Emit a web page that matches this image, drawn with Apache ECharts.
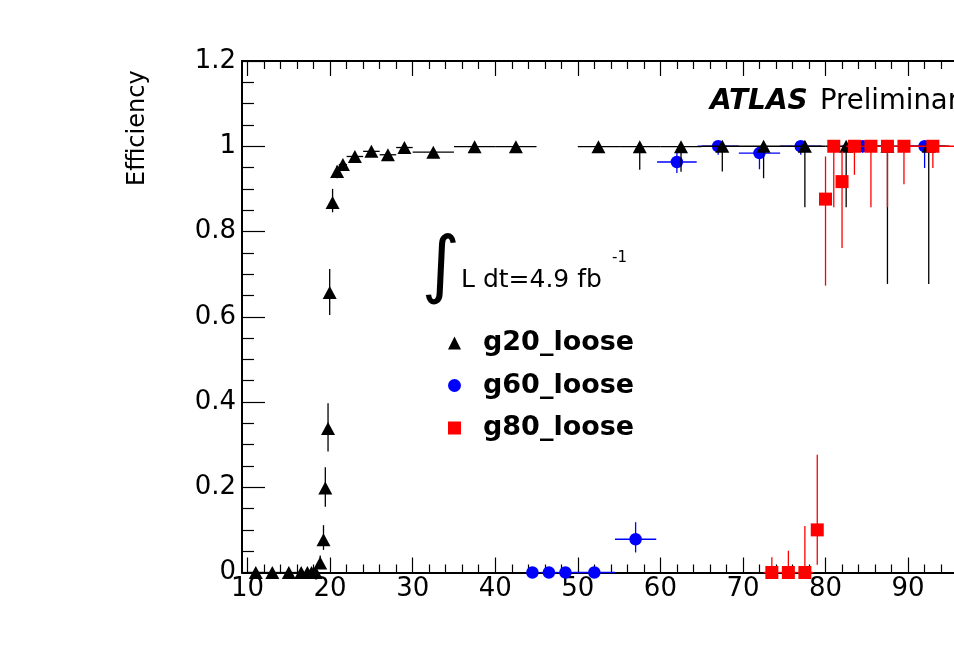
<!DOCTYPE html>
<html>
<head>
<meta charset="utf-8">
<script src="https://cdn.jsdelivr.net/npm/echarts@6/dist/echarts.min.js"></script>
<style>
html,body{margin:0;padding:0;background:#fff;}
#chart{width:954px;height:655px;}
</style>
</head>
<body>
<div id="chart"></div>
<script>
// ---- data ----
// g20_loose : black triangles
const g20X    = [11, 13, 15, 16.5, 17.25, 17.75, 18.25, 18.8, 19.2, 19.42, 19.75, 19.95, 20.3, 20.85, 21.55, 23, 25, 27, 29, 32.5, 37.5, 42.5, 52.5, 57.5, 62.5, 67.5, 72.5, 77.5, 82.5, 87.5, 92.5];
const g20Y    = [0, 0, 0, 0, 0, 0, 0, 0.022, 0.077, 0.198, 0.338, 0.657, 0.868, 0.941, 0.957, 0.976, 0.988, 0.980, 0.997, 0.986, 0.999, 0.999, 0.999, 0.999, 0.999, 1, 1, 1, 1, 1, 1];
const g20YLo  = [0, 0, 0, 0, 0, 0, 0, 0.008, 0.053, 0.154, 0.284, 0.604, 0.845, 0.925, 0.945, 0.968, 0.982, 0.972, 0.990, 0.980, 0.995, 0.995, 0.995, 0.945, 0.940, 0.941, 0.925, 0.857, 0.857, 0.677, 0.677];
const g20YHi  = [0.005, 0.005, 0.005, 0.005, 0.005, 0.005, 0.005, 0.040, 0.111, 0.247, 0.397, 0.712, 0.900, 0.955, 0.968, 0.983, 0.993, 0.987, 1, 0.990, 1, 1, 1, 1, 1, 1, 1, 1, 1, 1, 1];
const g20XErr = [1, 1, 1, 0.5, 0.25, 0.25, 0.25, 0.2, 0.2, 0.1, 0.1, 0.1, 0.2, 0.25, 0.5, 1, 1, 1, 1, 2.5, 2.5, 2.5, 2.5, 2.5, 2.5, 2.5, 2.5, 2.5, 2.5, 2.5, 2.5];

// g60_loose : blue circles
const g60X    = [44.5, 46.5, 48.5, 52, 57, 62, 67, 72, 77, 84.5, 92];
const g60Y    = [0, 0, 0, 0, 0.078, 0.963, 1, 0.984, 1, 1, 1];
const g60YLo  = [0, 0, 0, 0, 0.047, 0.937, 0.980, 0.946, 0.980, 0.985, 0.949];
const g60YHi  = [0.005, 0.005, 0.005, 0.005, 0.118, 0.984, 1, 1, 1, 1, 1];
const g60XErr = [0.5, 1, 1, 2.5, 2.5, 2.4, 2.5, 2.5, 2.5, 2.5, 2.5];

// g80_loose : red squares
const g80X    = [73.5, 75.5, 77.5, 79, 80, 81, 82, 83.5, 85.5, 87.5, 89.5, 93];
const g80Y    = [0, 0, 0, 0.100, 0.876, 1, 0.917, 1, 1, 1, 1, 1];
const g80YLo  = [0, 0, 0, 0.018, 0.673, 0.857, 0.761, 0.933, 0.857, 0.857, 0.911, 0.949];
const g80YHi  = [0.036, 0.051, 0.109, 0.276, 0.976, 1, 0.988, 1, 1, 1, 1, 1];
const g80XErr = [1, 1, 1, 0.5, 0.5, 0.5, 0.5, 1, 1, 1, 1, 3];

// axis ticks
const xMajorTicks = [10, 20, 30, 40, 50, 60, 70, 80, 90];
const xMinorTicks = [];
for (let i = 0; i < xMajorTicks.length; i++) {
  for (let k = 1; k < 5; k++) xMinorTicks.push(xMajorTicks[i] + k * 2);
}
const yTickValues = [0, 0.2, 0.4, 0.6, 0.8, 1, 1.2];

// ---- build ----
const FONT = '"DejaVu Sans", "Liberation Sans", sans-serif';
function build(xs, ys, lo, hi, xe) {
  return xs.map((x, i) => [x, ys[i], x - xe[i], x + xe[i], lo[i], hi[i]]);
}
function errSeries(name, data, color, z) {
  return {
    type: 'custom', name: name + '_err', data: data, z: z, silent: true, clip: false,
    encode: {x: 0, y: 1},
    renderItem: function (params, api) {
      const p = api.coord([api.value(0), api.value(1)]);
      const pl = api.coord([api.value(2), api.value(1)]);
      const ph = api.coord([api.value(3), api.value(1)]);
      const pyl = api.coord([api.value(0), api.value(4)]);
      const pyh = api.coord([api.value(0), api.value(5)]);
      const st = {stroke: color, lineWidth: 1.3};
      return {type: 'group', children: [
        {type: 'line', shape: {x1: pl[0], y1: p[1], x2: ph[0], y2: p[1]}, style: st},
        {type: 'line', shape: {x1: p[0], y1: pyl[1], x2: p[0], y2: pyh[1]}, style: st}
      ]};
    }
  };
}
function markSeries(name, xs, ys, symbol, size, color, z) {
  return {
    type: 'scatter', name: name, data: xs.map((x, i) => [x, ys[i]]), z: z,
    symbol: symbol, symbolSize: size, clip: false,
    itemStyle: {color: color, opacity: 1}, emphasis: {disabled: true}
  };
}

// the frame continues past the right edge of the picture
const XMIN = 9.33, XMAX = 95.56;
const gridDef = {left: 242, top: 61, right: 0, bottom: 82.5, containLabel: false};

const baseX = {
  type: 'value', min: XMIN, max: XMAX, gridIndex: 0,
  splitLine: {show: false}
};
const option = {
  animation: false,
  backgroundColor: '#fff',
  grid: gridDef,
  xAxis: [
    Object.assign({}, baseX, {
      position: 'bottom',
      axisLine: {show: true, lineStyle: {color: '#000', width: 2}},
      axisTick: {show: true, inside: true, length: 15, customValues: xMajorTicks, lineStyle: {color: '#000', width: 1.2}},
      axisLabel: {show: true, customValues: xMajorTicks, margin: 4, color: '#000', fontFamily: FONT, fontSize: 26}
    }),
    Object.assign({}, baseX, {
      position: 'bottom',
      axisLine: {show: false},
      axisTick: {show: true, inside: true, length: 8, customValues: xMinorTicks, lineStyle: {color: '#000', width: 1.2}},
      axisLabel: {show: false}
    }),
    Object.assign({}, baseX, {
      position: 'top',
      axisLine: {show: true, lineStyle: {color: '#000', width: 2}},
      axisTick: {show: true, inside: true, length: 15, customValues: xMajorTicks, lineStyle: {color: '#000', width: 1.2}},
      axisLabel: {show: false}
    }),
    Object.assign({}, baseX, {
      position: 'top',
      axisLine: {show: false},
      axisTick: {show: true, inside: true, length: 8, customValues: xMinorTicks, lineStyle: {color: '#000', width: 1.2}},
      axisLabel: {show: false}
    })
  ],
  yAxis: [{
    type: 'value', min: 0, max: 1.2, interval: 0.2, position: 'left',
    axisLine: {show: true, lineStyle: {color: '#000', width: 2}},
    axisTick: {show: true, inside: true, length: 23, lineStyle: {color: '#000', width: 1.2}},
    minorTick: {show: true, splitNumber: 4, length: 12, lineStyle: {color: '#000', width: 1.2}},
    splitLine: {show: false},
    axisLabel: {show: true, margin: 6, color: '#000', fontFamily: FONT, fontSize: 26,
      customValues: yTickValues}
  }],
  legend: {
    data: [
      {name: 'g20_loose', icon: 'triangle'},
      {name: 'g60_loose', icon: 'circle'},
      {name: 'g80_loose', icon: 'rect'}
    ],
    orient: 'vertical', left: 448, top: 328, padding: 0,
    itemWidth: 13, itemHeight: 13, itemGap: 12.5, selectedMode: false,
    textStyle: {fontFamily: FONT, fontWeight: 'bold', fontSize: 27, color: '#000',
      lineHeight: 30, padding: [0, 0, 0, 17]}
  },
  graphic: [
    {type: 'text', x: 138, y: 186, rotation: Math.PI / 2,
      style: {text: 'Efficiency', font: '24px ' + FONT, fill: '#000', align: 'left', verticalAlign: 'middle'}},
    {type: 'text', x: 710, y: 102,
      style: {text: 'ATLAS', font: 'italic bold 28px ' + FONT, fill: '#000', align: 'left', verticalAlign: 'middle'}},
    {type: 'text', x: 820, y: 102,
      style: {text: 'Preliminary', font: '27.5px ' + FONT, fill: '#000', align: 'left', verticalAlign: 'middle'}},
    {type: 'text', x: 441, y: 270,
      style: {text: '\u222B', font: '74px ' + FONT, fill: '#000', align: 'center', verticalAlign: 'middle'}},
    {type: 'text', x: 461, y: 280,
      style: {text: 'L dt=4.9 fb', font: '25px ' + FONT, fill: '#000', align: 'left', verticalAlign: 'middle'}},
    {type: 'text', x: 612, y: 258,
      style: {text: '-1', font: '15px ' + FONT, fill: '#000', align: 'left', verticalAlign: 'middle'}}
  ],
  series: [
    errSeries('g60_loose', build(g60X, g60Y, g60YLo, g60YHi, g60XErr), '#0000ff', 2),
    markSeries('g60_loose', g60X, g60Y, 'circle', 12.5, '#0000ff', 3),
    errSeries('g20_loose', build(g20X, g20Y, g20YLo, g20YHi, g20XErr), '#000000', 4),
    markSeries('g20_loose', g20X, g20Y, 'triangle', [14, 13], '#000000', 5),
    errSeries('g80_loose', build(g80X, g80Y, g80YLo, g80YHi, g80XErr), '#ff0000', 6),
    markSeries('g80_loose', g80X, g80Y, 'rect', 13, '#ff0000', 7)
  ]
};
const chart = echarts.init(document.getElementById('chart'), null, {renderer: 'canvas'});
chart.setOption(option);
</script>
</body>
</html>
